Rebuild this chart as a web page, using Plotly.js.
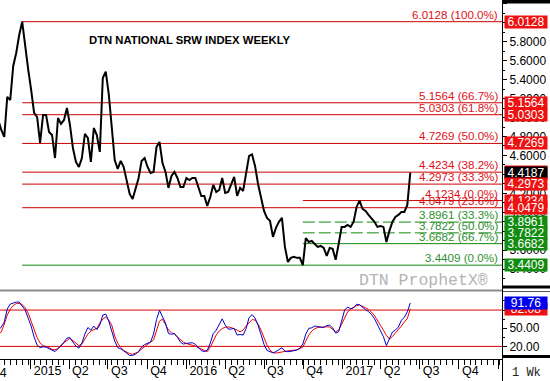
<!DOCTYPE html>
<html>
<head>
<meta charset="utf-8">
<script src="https://cdn.plot.ly/plotly-3.0.1.min.js"></script>
<style>html,body{margin:0;padding:0;background:#fff;}#chart{width:550px;height:381px;}</style>
</head>
<body>
<div id="chart"></div>
<script>
// ---- DATA ----
const firstWeek = '2014-10-17';
const price = [4.975,4.869,4.795,5.218,5.186,5.545,5.682,5.872,6.0128,5.746,
5.513,5.292,5.049,5.006,4.732,5.028,5.028,4.848,4.816,4.573,
4.996,4.933,4.975,5.102,4.922,4.679,4.531,4.478,4.573,4.827,
4.785,4.531,4.890,4.816,4.637,5.418,5.485,5.249,4.933,4.552,
4.457,4.542,4.478,4.341,4.193,4.140,4.267,4.362,4.542,4.573,
4.478,4.415,4.426,4.690,4.742,4.520,4.426,4.257,4.383,4.426,
4.362,4.267,4.267,4.362,4.341,4.362,4.362,4.257,4.172,4.172,
4.066,4.161,4.288,4.214,4.235,4.362,4.204,4.214,4.288,4.373,
4.172,4.257,4.225,4.394,4.595,4.610,4.489,4.299,4.151,4.014,
3.940,3.909,3.740,3.835,3.898,3.940,3.634,3.475,3.518,3.528,
3.518,3.518,3.4409,3.728,3.686,3.697,3.665,3.634,3.644,3.623,
3.539,3.623,3.613,3.497,3.665,3.845,3.845,3.866,3.845,3.898,
4.056,4.1234,4.035,4.014,3.972,3.940,3.898,3.845,3.855,3.845,
3.686,3.803,3.898,3.951,3.972,4.003,4.003,4.077,4.4187];

const stochK = [46.9,51.9,60.2,81.7,89.9,91.6,93.2,93.2,87.4,80.0,
66.8,53.6,35.4,22.1,18.0,19.3,18.8,16.4,13.9,11.4,
16.4,21.3,27.1,33.7,34.5,27.1,20.5,17.2,25.5,40.3,
51.1,46.9,53.6,47.8,55.2,71.7,73.4,61.8,45.3,28.8,
18.0,16.0,12.6,8.1,5.1,5.1,7.3,11.7,18.8,23.0,
25.5,27.1,40.3,64.3,79.5,69.6,58.5,41.2,40.0,41.2,
35.4,27.1,23.8,25.0,25.0,26.1,23.3,18.0,13.1,11.4,
13.6,25.5,41.2,46.9,55.2,65.5,55.2,48.6,48.6,49.8,
38.7,39.7,38.7,49.4,67.6,72.4,66.8,55.2,39.5,23.3,
13.4,11.2,9.3,11.4,13.9,17.7,12.2,11.2,11.9,12.9,
13.9,17.2,23.8,40.3,49.8,50.7,53.6,52.7,52.4,51.1,
54.4,54.9,50.6,42.0,44.1,62.2,80.0,85.0,82.2,83.6,
89.6,88.8,84.1,80.8,77.5,72.7,65.8,56.0,46.6,35.9,
21.3,32.9,43.6,46.9,51.9,63.0,68.1,77.0,91.76];

const stochD = [40.3,43.6,56.9,71.7,81.7,87.4,90.7,91.1,89.1,84.1,
75.0,62.6,48.6,34.5,25.5,21.3,19.7,18.0,14.7,14.4,
16.4,20.5,26.3,30.4,33.2,29.6,25.5,21.3,23.8,32.9,
40.3,45.3,47.8,49.8,58.5,65.1,68.4,63.5,55.2,37.0,
25.5,18.0,13.4,10.6,8.1,6.9,8.6,10.9,15.5,19.7,
23.0,27.1,30.4,46.9,61.8,65.1,55.2,46.9,42.8,40.3,
35.4,30.4,27.1,24.6,23.5,22.1,20.5,17.7,15.5,13.1,
11.4,18.8,28.8,38.7,45.3,49.4,51.6,52.2,51.1,49.4,
46.9,44.1,46.9,53.6,59.3,64.3,63.5,56.9,46.9,33.7,
22.1,13.9,9.8,8.9,10.1,11.1,12.2,12.6,13.1,13.6,
14.2,16.4,18.8,28.8,38.7,45.3,49.4,51.1,51.9,52.4,
52.4,51.9,48.6,44.1,46.9,56.9,68.4,76.7,81.7,85.0,
87.4,88.3,86.6,83.8,80.8,76.7,70.9,63.5,56.0,46.9,
37.9,32.1,36.2,41.5,48.6,53.6,60.2,66.0,82.08];

// long retracement (from the Dec-2014 high to the Sep-2016 low)
const redLevels = [6.0128, 5.1564, 5.0303, 4.7269, 4.4234, 4.2973, 4.0479];
const redPcts   = ['100.0%','66.7%','61.8%','50.0%','38.2%','33.3%','23.6%'];
const lowLevel = 3.4409, lowPct = '0.0%';
// short retracement (from the Sep-2016 low to the spring-2017 high)
const shortHigh = 4.1234, shortHighPct = '0.0%';
const greenLevels = [3.8961, 3.7822, 3.6682];
const greenPcts = ['33.3%','50.0%','66.7%'];
const lastPrice = 4.4187;
const stochOver = 80, stochUnder = 20;
const lastK = 91.76, lastD = 82.08;
const quarterTicks = ['2015-01-01','2015-04-01','2015-07-01','2015-10-01','2016-01-01','2016-04-01','2016-07-01','2016-10-01','2017-01-01','2017-04-01','2017-07-01','2017-10-01','2018-01-01'];
const quarterLabels = ['2015','Q2','Q3','Q4','2016','Q2','Q3','Q4','2017','Q2','Q3','Q4',''];
const chartTitle = 'DTN NATIONAL SRW INDEX WEEKLY';

// ---- BUILD ----
const W = 550, H = 381;
const plotRight = 502;
const xEnd = '2018-01-10';
const dates = price.map((_, i) => {
  const d = new Date(firstWeek + 'T00:00:00Z');
  d.setUTCDate(d.getUTCDate() + 7 * i);
  return d.toISOString().slice(0, 10);
});
const highIdx = price.indexOf(Math.max(...price));
const lowIdx = price.lastIndexOf(lowLevel);

const FONT = 'Liberation Sans, Arial, sans-serif';
const RED_LINE = '#cc0000', RED_TXT = '#e0101a', RED_BOX = '#ee1111';
const GRN_LINE = '#118811', GRN_TXT = '#2f8f2f', GRN_BOX = '#118c11';

const shapes = [];
const annotations = [];
function hline(y, x0, color, dash) {
  shapes.push({type:'line', layer:'below', xref:'x', yref:'y', x0:x0, x1:xEnd, y0:y, y1:y,
    line:{color:color, width:1, dash:dash || 'solid'}});
}
function label(y, txt, color) {
  annotations.push({xref:'paper', yref:'y', x:499/W, y:y, xanchor:'right', yanchor:'bottom',
    text:txt, showarrow:false, borderpad:0, font:{family:FONT, size:11.6, color:color}});
}
function box(y, txt, bg, yref) {
  annotations.push({xref:'paper', yref:yref || 'y', x:503.5/W, y:y, xanchor:'left', yanchor:'middle',
    text:txt, showarrow:false, bgcolor:bg, width:42, height:12, borderpad:0, align:'center',
    font:{family:FONT, size:12, color:'#ffffff'}});
}

redLevels.forEach((v, k) => { hline(v, dates[highIdx], RED_LINE); });
hline(shortHigh, dates[lowIdx], RED_LINE);
hline(lowLevel, dates[highIdx], GRN_LINE);
greenLevels.forEach((v, k) => { hline(v, dates[lowIdx], GRN_LINE, k < 2 ? '12px,4px' : 'solid'); });

// labels (draw in order so lower ones are on top)
const labelItems = [];
redLevels.forEach((v, k) => labelItems.push([v, v.toFixed(4) + ' (' + redPcts[k] + ')', RED_TXT]));
labelItems.push([shortHigh, shortHigh.toFixed(4) + ' (' + shortHighPct + ')', RED_TXT]);
greenLevels.forEach((v, k) => labelItems.push([v, v.toFixed(4) + ' (' + greenPcts[k] + ')', GRN_TXT]));
labelItems.push([lowLevel, lowLevel.toFixed(4) + ' (' + lowPct + ')', GRN_TXT]);
labelItems.sort((a, b) => b[0] - a[0]).forEach(it => label(it[0], it[1], it[2]));

const boxItems = [];
redLevels.forEach(v => boxItems.push([v, RED_BOX, 0]));
boxItems.push([shortHigh, RED_BOX, 0]);
greenLevels.forEach(v => boxItems.push([v, GRN_BOX, 0]));
boxItems.push([lowLevel, GRN_BOX, 0]);
boxItems.push([lastPrice, '#000000', 1]);
boxItems.sort((a, b) => (b[0] - a[0]) || (a[2] - b[2])).forEach(it => box(it[0], it[0].toFixed(4), it[1]));

// stochastic reference lines
[stochOver, stochUnder].forEach(v => shapes.push({type:'line', layer:'below', xref:'x domain', yref:'y2',
  x0:0, x1:1, y0:v, y1:v, line:{color:'#dd0000', width:1}}));
box(lastD, lastD.toFixed(2), RED_BOX, 'y2');
box(lastK, lastK.toFixed(2), '#0000ee', 'y2');

// frame decorations
const py = p => (H - p) / H;
const px = p => p / W;
shapes.push({type:'rect', xref:'paper', yref:'paper', x0:px(plotRight), x1:1, y0:py(3.5), y1:1, fillcolor:'#000', line:{width:0}});
shapes.push({type:'rect', xref:'paper', yref:'paper', x0:px(plotRight), x1:1, y0:py(288.5), y1:py(285.5), fillcolor:'#000', line:{width:0}});
shapes.push({type:'rect', xref:'paper', yref:'paper', x0:px(plotRight), x1:1, y0:py(358), y1:py(355), fillcolor:'#000', line:{width:0}});
shapes.push({type:'line', xref:'paper', yref:'paper', x0:0, x1:px(plotRight), y0:py(290.5), y1:py(290.5), line:{color:'#8c8c8c', width:2}});
shapes.push({type:'line', xref:'paper', yref:'paper', x0:px(plotRight), x1:1, y0:py(291.5), y1:py(291.5), line:{color:'#555', width:1}});
shapes.push({type:'line', xref:'paper', yref:'paper', x0:px(plotRight + 0.5), x1:px(plotRight + 0.5), y0:0, y1:1, line:{color:'#000', width:1}});

annotations.push({xref:'paper', yref:'paper', x:px(87), y:py(40), xanchor:'left', yanchor:'middle',
  text:chartTitle, showarrow:false, font:{family:FONT, size:11.3, color:'#000', weight:'bold'}});
annotations.push({xref:'paper', yref:'paper', x:px(490), y:py(280), xanchor:'right', yanchor:'middle',
  text:'DTN ProphetX®', showarrow:false, font:{family:'Liberation Mono, Courier New, monospace', size:16.5, color:'#b4b4b4'}});
annotations.push({xref:'paper', yref:'paper', x:px(526), y:py(373), xanchor:'center', yanchor:'middle',
  text:'1 Wk', showarrow:false, font:{family:'Liberation Mono, Courier New, monospace', size:12, color:'#222'}});
annotations.push({xref:'paper', yref:'paper', x:px(9), y:py(373), xanchor:'right', yanchor:'middle',
  text:'Q4', showarrow:false, font:{family:FONT, size:12.5, color:'#000'}});

const traces = [
  {x:dates, y:price, type:'scatter', mode:'lines', xaxis:'x', yaxis:'y', line:{color:'#000', width:2}, hoverinfo:'skip'},
  {x:dates, y:stochD, type:'scatter', mode:'lines', xaxis:'x', yaxis:'y2', line:{color:'#ee0000', width:1}, hoverinfo:'skip'},
  {x:dates, y:stochK, type:'scatter', mode:'lines', xaxis:'x', yaxis:'y2', line:{color:'#0000cc', width:1}, hoverinfo:'skip'}
];

const layout = {
  width:W, height:H, margin:{l:0, r:0, t:0, b:0, pad:0},
  paper_bgcolor:'#fff', plot_bgcolor:'#fff', showlegend:false,
  xaxis:{type:'date', domain:[0, px(plotRight)], range:[ '2014-10-21', xEnd], anchor:'y2',
    showline:true, linecolor:'#000', linewidth:1, showgrid:false, zeroline:false,
    ticks:'outside', ticklen:9, tickcolor:'#000', tickwidth:1,
    tickmode:'array', tickvals:quarterTicks, ticktext:quarterLabels,
    ticklabelposition:'outside right', ticklabelshift:2,
    tickfont:{family:FONT, size:12.5, color:'#000'}, automargin:false,
    minor:{ticks:'outside', ticklen:5, tickcolor:'#000', tickmode:'linear', tick0:'2014-10-03', dtick:14*86400000, showgrid:false}},
  yaxis:{domain:[py(287), py(3)], range:[3.2103, 6.2103], side:'right', anchor:'x',
    showline:true, linecolor:'#000', linewidth:1, showgrid:false, zeroline:false,
    ticks:'outside', ticklen:4, tickcolor:'#000', dtick:0.2, tick0:0, tickformat:'.4f',
    tickfont:{family:FONT, size:12, color:'#000'}, automargin:false,
    minor:{ticks:'outside', ticklen:2, tickcolor:'#000', dtick:0.1, showgrid:false}},
  yaxis2:{domain:[py(358.5), py(292.5)], range:[0, 109], side:'right', anchor:'x',
    showline:true, linecolor:'#000', linewidth:1, showgrid:false, zeroline:false,
    ticks:'outside', ticklen:4, tickcolor:'#000', tickmode:'array', tickvals:[20, 50, 80], tickformat:'.2f',
    tickfont:{family:FONT, size:12, color:'#000'}, automargin:false,
    minor:{ticks:'outside', ticklen:2, tickcolor:'#000', tickmode:'linear', tick0:5, dtick:15, showgrid:false}},
  shapes:shapes, annotations:annotations, hovermode:false
};

Plotly.newPlot('chart', traces, layout, {displayModeBar:false, staticPlot:true});
</script>
</body>
</html>
